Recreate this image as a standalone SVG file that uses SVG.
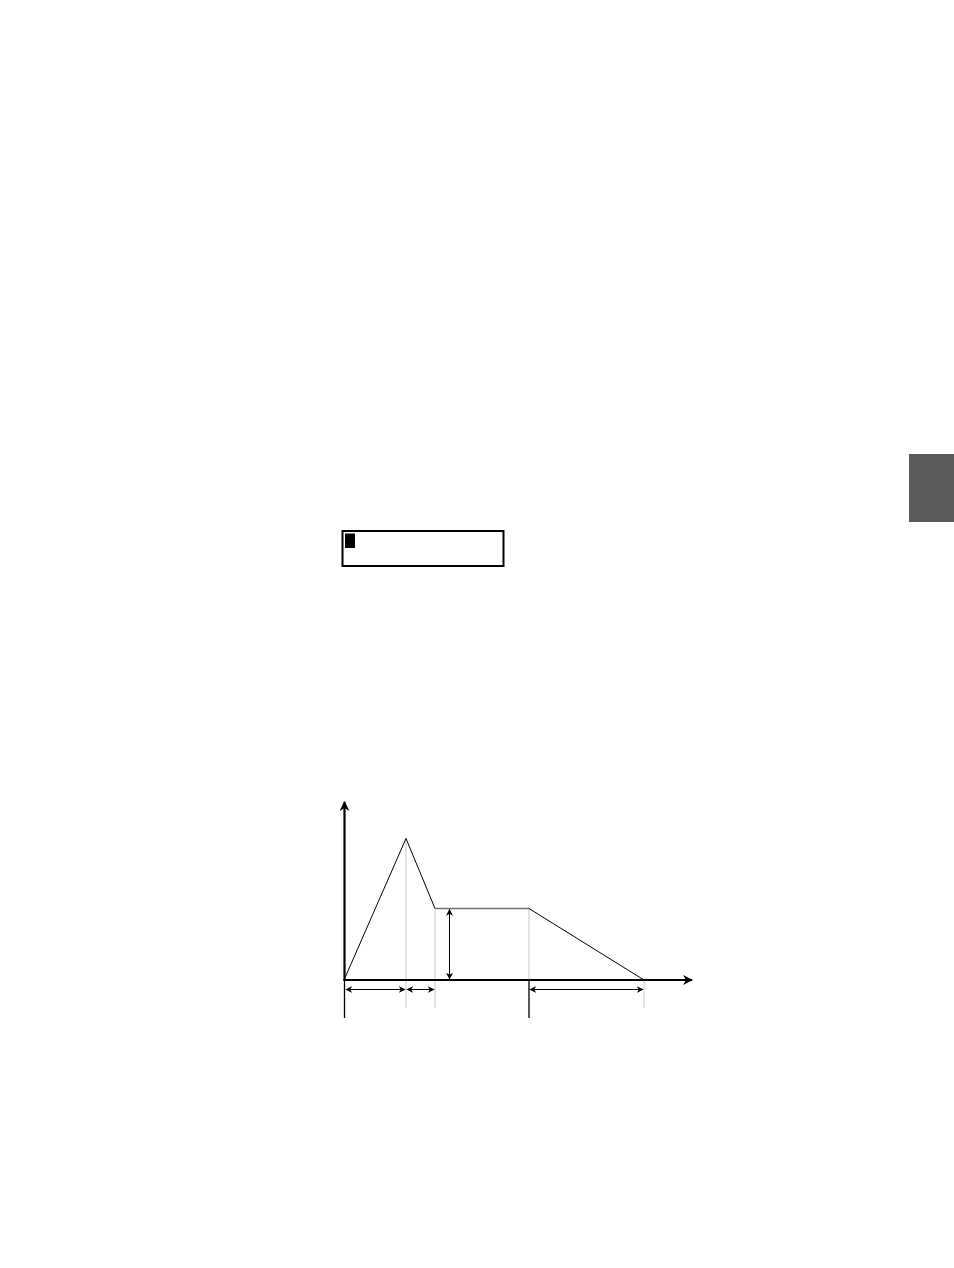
<svg xmlns="http://www.w3.org/2000/svg" width="954" height="1268" viewBox="0 0 954 1268">
<defs>
<style>
.ax{stroke:#000;stroke-width:2.2;fill:none}
.ln{stroke:#000;stroke-width:1;fill:none}
.gl{stroke:#c8c8c8;stroke-width:1;fill:none}
.tk{stroke:#000;stroke-width:1.3;fill:none}
.dim{stroke:#000;stroke-width:1;fill:none;marker-start:url(#ah);marker-end:url(#ah)}
</style>
<marker id="ah" viewBox="0 0 10 10" refX="9" refY="5" markerWidth="7" markerHeight="7" markerUnits="userSpaceOnUse" orient="auto-start-reverse">
<path d="M0,0 L10,5 L0,10 L3,5 Z" fill="#000"/>
</marker>
<marker id="axh" viewBox="0 0 10 10" refX="9" refY="5" markerWidth="10" markerHeight="10" markerUnits="userSpaceOnUse" orient="auto">
<path d="M0,0 L10,5 L0,10 L3,5 Z" fill="#000"/>
</marker>
</defs>
<rect id="tab" x="909" y="454" width="45" height="68" fill="#5a5a5a"/>
<g id="display">
<rect x="342.5" y="531" width="161" height="35" fill="#fff" stroke="#000" stroke-width="2"/>
<rect x="345" y="533.5" width="10" height="14.5" fill="#000"/>
</g>
<g id="guides">
<line class="gl" x1="406" y1="838" x2="406" y2="1008"/>
<line class="gl" x1="435" y1="908" x2="435" y2="1008"/>
<line class="gl" x1="529" y1="908" x2="529" y2="980"/>
<line class="gl" x1="644" y1="980" x2="644" y2="1008"/>
</g>
<g id="envelope">
<polyline class="ln" points="344,980 406,838.5 435,908.5"/>
<line x1="435" y1="908.5" x2="529" y2="908.5" stroke="#707070" stroke-width="1.4"/>
<line class="ln" x1="529" y1="908.5" x2="644" y2="980"/>
</g>
<g id="axes">
<line class="ax" x1="344.5" y1="981" x2="344.5" y2="802" marker-end="url(#axh)"/>
<line class="ax" x1="343.5" y1="980" x2="692" y2="980" marker-end="url(#axh)"/>
<line class="tk" x1="344.5" y1="980" x2="344.5" y2="1018"/>
<line class="tk" x1="529" y1="980" x2="529" y2="1018"/>
</g>
<g id="connectors">
<line class="dim" x1="346" y1="989.5" x2="405" y2="989.5"/>
<line class="dim" x1="407" y1="989.5" x2="434" y2="989.5"/>
<line class="dim" x1="530" y1="989.5" x2="643" y2="989.5"/>
<line class="dim" x1="449.5" y1="909.5" x2="449.5" y2="979"/>
</g>
</svg>
